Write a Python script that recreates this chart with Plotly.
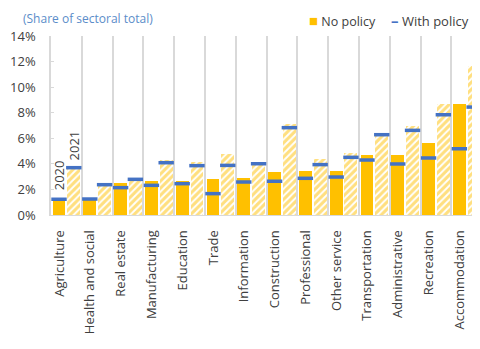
import plotly.graph_objects as go

categories = ["Agriculture", "Health and social", "Real estate", "Manufacturing",
              "Education", "Trade", "Information", "Construction", "Professional",
              "Other service", "Transportation", "Administrative", "Recreation",
              "Accommodation"]
no_policy_2020 = [1.22, 1.35, 2.48, 2.68, 2.66, 2.79, 2.87, 3.36, 3.44, 3.44, 4.69, 4.72, 5.60, 8.68]
no_policy_2021 = [3.78, 2.48, 2.87, 4.30, 4.17, 4.77, 4.12, 7.11, 4.40, 4.82, 6.44, 6.96, 8.68, 11.65]
with_policy_2020 = [1.23, 1.25, 2.14, 2.32, 2.45, 1.67, 2.58, 2.64, 2.87, 2.97, 4.30, 3.99, 4.46, 5.18]
with_policy_2021 = [3.70, 2.37, 2.79, 4.09, 3.86, 3.88, 4.01, 6.83, 3.94, 4.51, 6.28, 6.62, 7.84, 8.44]
y_ticks = [0, 2, 4, 6, 8, 10, 12, 14]
y_ticklabels = [f"{v}%" for v in y_ticks]

YELLOW = "#FFC000"
BLUE = "#4472C4"
GRID = "#D9D9D9"
TXT = "#404040"
FONT = "Open Sans"

n = len(categories)
idx = list(range(n))
off = 0.24
x20 = [i - off for i in idx]
x21 = [i + off for i in idx]

fig = go.Figure()
fig.add_trace(go.Bar(x=x20, y=no_policy_2020, width=0.42, name="No policy",
                     marker=dict(color=YELLOW, line=dict(width=0))))
fig.add_trace(go.Bar(x=x21, y=no_policy_2021, width=0.42, name="No policy 2021",
                     marker=dict(color="white", line=dict(width=0),
                                 pattern=dict(shape="/", fgcolor=YELLOW, bgcolor="white",
                                              size=5, solidity=0.62))))
fig.add_trace(go.Scatter(x=x20 + x21, y=with_policy_2020 + with_policy_2021, mode="markers",
                         name="With policy",
                         marker=dict(symbol="line-ew", size=11, color=BLUE,
                                     line=dict(color=BLUE, width=3.5))))

fig.add_annotation(x=x20[0], y=with_policy_2020[0], text="2020", textangle=-90,
                   showarrow=False, xanchor="center", yanchor="bottom", yshift=7,
                   font=dict(family=FONT, size=13, color=TXT))
fig.add_annotation(x=x21[0], y=no_policy_2021[0], text="2021", textangle=-90,
                   showarrow=False, xanchor="center", yanchor="bottom", yshift=4,
                   font=dict(family=FONT, size=13, color=TXT))
# title
fig.add_annotation(xref="paper", yref="paper", x=-0.071, y=1.156, xanchor="left",
                   yanchor="top", text="(Share of sectoral total)", showarrow=False,
                   font=dict(family=FONT, size=12, color="#5B8DC9"))
# legend (text entries)
fig.add_annotation(xref="paper", yref="paper", x=0.596, y=1.09, xanchor="left",
                   yanchor="middle", showarrow=False,
                   text=f"<span style='color:{YELLOW};font-size:15px'>■</span> No policy",
                   font=dict(family=FONT, size=12.5, color=TXT))
fig.add_annotation(xref="paper", yref="paper", x=0.789, y=1.09, xanchor="left",
                   yanchor="middle", showarrow=False,
                   text=f"<span style='color:{BLUE};font-size:15px'><b>–</b></span> With policy",
                   font=dict(family=FONT, size=13, color=TXT))
# source (cut off at bottom edge as in the reference)
fig.add_annotation(xref="paper", yref="paper", x=-0.1, y=-0.726, xanchor="left",
                   yanchor="top", text="Sources: 2019 SCE; IMF; and IMF staff estimates.",
                   showarrow=False, font=dict(family=FONT, size=9, color="#808080"))

fig.update_layout(
    width=472, height=341,
    margin=dict(l=43, r=0, t=28, b=134, autoexpand=False),
    plot_bgcolor="white", paper_bgcolor="white",
    barmode="overlay", bargap=0, showlegend=False,
    font=dict(family=FONT, size=13, color=TXT),
    xaxis=dict(range=[-0.5, 13.43], tickmode="array", automargin=False,
               tickvals=[i - 0.23 for i in idx], ticktext=categories,
               tickangle=-90, showgrid=False, zeroline=False,
               ticks="outside", ticklen=9, tickcolor="rgba(0,0,0,0)",
               tickfont=dict(family=FONT, size=13, color=TXT),
               showline=True, linecolor=GRID, linewidth=1,
               minor=dict(tickmode="array", tickvals=[i + 0.5 for i in idx],
                          showgrid=True, gridcolor=GRID, gridwidth=1.5, ticks="")),
    yaxis=dict(range=[0, 14], tickmode="array", tickvals=y_ticks, ticktext=y_ticklabels,
               automargin=False,
               showgrid=False, zeroline=False, showline=True, linecolor=GRID, linewidth=1.5,
               ticks="inside", ticklen=3, tickcolor=GRID, ticklabelstandoff=11,
               tickfont=dict(family=FONT, size=13, color=TXT)),
)

fig.write_html("out.html")
